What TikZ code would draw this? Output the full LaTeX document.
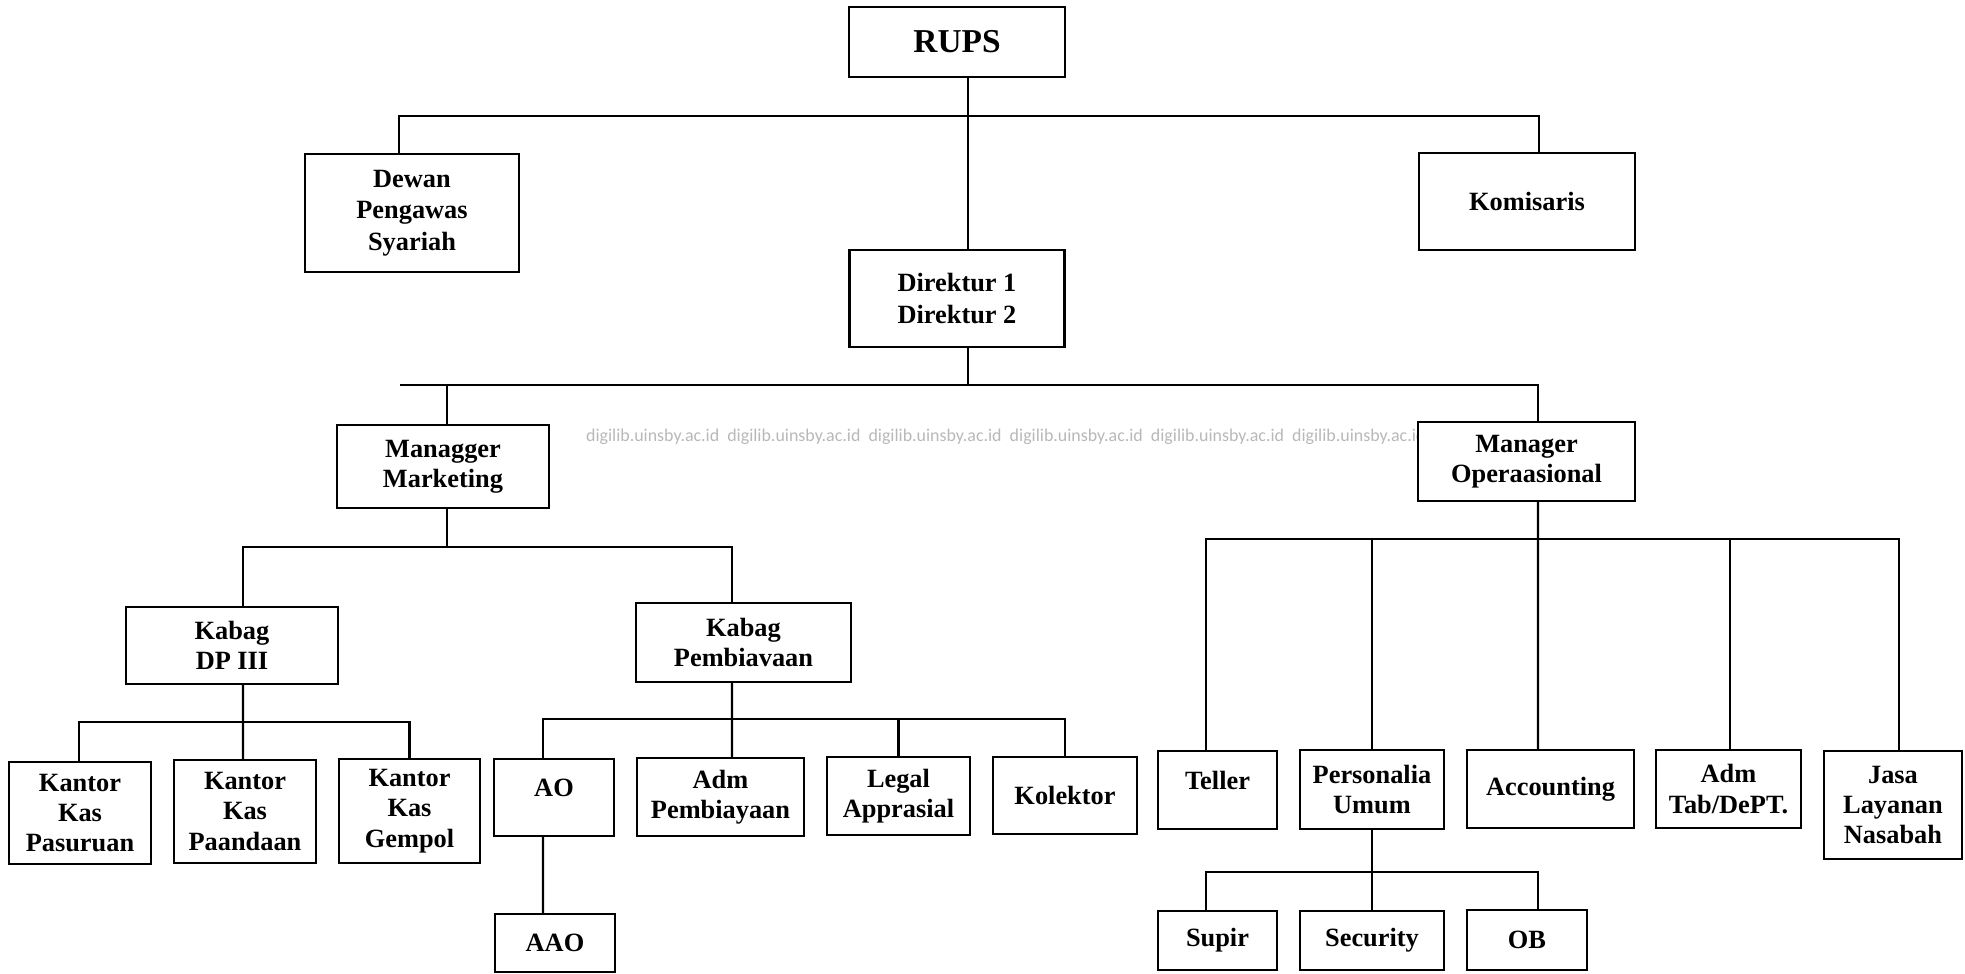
\documentclass[tikz,border=0pt]{standalone}
\usepackage{fontspec}
\setmainfont{Liberation Serif}
\newfontfamily\wmfont{Carlito}
\usetikzlibrary{calc}

\tikzset{
  unit/.style={rectangle, draw, fill=white, line width=0.8pt, inner sep=0pt, outer sep=0pt,
    align=center, font=\fontsize{7.5}{8.6}\selectfont\bfseries},
  link/.style={line width=0.7pt},
}

\begin{document}
\begin{tikzpicture}
    \useasboundingbox (0,0) rectangle (19.65,-9.74);

    % watermark
    \node[font=\wmfont\fontsize{5.1}{6}\selectfont, text=black!28] (wm) at (10.06,-4.37)
      {digilib.uinsby.ac.id\ \ digilib.uinsby.ac.id\ \ digilib.uinsby.ac.id\ \ digilib.uinsby.ac.id\ \ digilib.uinsby.ac.id\ \ digilib.uinsby.ac.id};

    % Top levels
    \node[unit, minimum width=2.16cm, minimum height=0.70cm, font=\fontsize{9.5}{11}\selectfont\bfseries] (rups) at (9.57,-0.42) {RUPS};
    \node[unit, minimum width=2.14cm, minimum height=1.18cm, font=\fontsize{7.5}{9}\selectfont\bfseries] (dewan) at (4.12,-2.13) {Dewan\\Pengawas\\Syariah};
    \node[unit, minimum width=2.16cm, minimum height=0.97cm] (komi) at (15.27,-2.015) {Komisaris};
    \node[unit, minimum width=2.15cm, minimum height=0.97cm, font=\fontsize{7.5}{9.2}\selectfont\bfseries] (dir) at (9.57,-2.985) {Direktur 1\\Direktur 2};
    \node[unit, minimum width=2.12cm, minimum height=0.83cm] (mktg) at (4.43,-4.665) {Managger\\Marketing};
    \node[unit, minimum width=2.17cm, minimum height=0.79cm] (ops) at (15.265,-4.615) {Manager\\Operaasional};

    % Marketing side
    \node[unit, minimum width=2.12cm, minimum height=0.77cm] (kdp) at (2.32,-6.455) {Kabag\\DP III};
    \node[unit, minimum width=2.15cm, minimum height=0.79cm] (kpb) at (7.435,-6.425) {Kabag\\Pembiavaan};
    \node[unit, minimum width=1.42cm, minimum height=1.02cm] (kk1) at (0.80,-8.13) {Kantor\\Kas\\Pasuruan};
    \node[unit, minimum width=1.42cm, minimum height=1.03cm] (kk2) at (2.45,-8.115) {Kantor\\Kas\\Paandaan};
    \node[unit, minimum width=1.41cm, minimum height=1.04cm] (kk3) at (4.095,-8.11) {Kantor\\Kas\\Gempol};
    \node[unit, minimum width=1.20cm, minimum height=0.77cm, text depth=0.2cm] (ao) at (5.54,-7.975) {AO};
    \node[unit, minimum width=1.67cm, minimum height=0.78cm] (admp) at (7.205,-7.97) {Adm\\Pembiayaan};
    \node[unit, minimum width=1.43cm, minimum height=0.78cm] (legal) at (8.985,-7.96) {Legal\\Apprasial};
    \node[unit, minimum width=1.44cm, minimum height=0.77cm] (kol) at (10.65,-7.955) {Kolektor};
    \node[unit, minimum width=1.20cm, minimum height=0.58cm] (aao) at (5.55,-9.43) {AAO};

    % Operasional side
    \node[unit, minimum width=1.19cm, minimum height=0.78cm, text depth=0.2cm] (teller) at (12.175,-7.90) {Teller};
    \node[unit, minimum width=1.44cm, minimum height=0.79cm] (pers) at (13.72,-7.895) {Personalia\\Umum};
    \node[unit, minimum width=1.67cm, minimum height=0.78cm] (acc) at (15.505,-7.89) {Accounting};
    \node[unit, minimum width=1.45cm, minimum height=0.78cm] (admtab) at (17.285,-7.89) {Adm\\Tab/DePT.};
    \node[unit, minimum width=1.38cm, minimum height=1.08cm] (jasa) at (18.93,-8.05) {Jasa\\Layanan\\Nasabah};
    \node[unit, minimum width=1.19cm, minimum height=0.59cm] (supir) at (12.175,-9.405) {Supir};
    \node[unit, minimum width=1.44cm, minimum height=0.59cm] (sec) at (13.72,-9.405) {Security};
    \node[unit, minimum width=1.20cm, minimum height=0.60cm] (ob) at (15.27,-9.40) {OB};

    % Lines
    \draw[link] ($(rups.south)+(0.11,0)$) -- ($(dir.north)+(0.11,0)$);
    \draw[link] ($(dewan.north)+(-0.13,0)$) |- ($(rups.south)+(0.11,-0.39)$) -| ($(komi.north)+(0.12,0)$);

    \coordinate (stub) at (4.00,-3.85);
    \draw[link] ($(dir.south)+(0.11,0)$) -- ++(0,-0.38);
    \draw[link] (stub) -| ($(ops.north)+(0.115,0)$);
    \draw[link] ($(mktg.north)+(0.04,0)$) -- ++(0,0.40);

    \draw[link] ($(mktg.south)+(0.04,0)$) -- ++(0,-0.39);
    \draw[link] ($(kdp.north)+(0.11,0)$) |- ($(mktg.south)+(0.04,-0.39)$) -| ($(kpb.north)+(-0.115,0)$);

    \draw[link] ($(kdp.south)+(0.11,0)$) -- ($(kk2.north)+(-0.02,0)$);
    \draw[link] ($(kk1.north)+(-0.01,0)$) |- ($(kdp.south)+(0.11,-0.38)$) -| (kk3.north);

    \draw[link] ($(kpb.south)+(-0.115,0)$) -- ($(admp.north)+(0.115,0)$);
    \draw[link] ($(ao.north)+(-0.11,0)$) |- ($(kpb.south)+(-0.115,-0.37)$) -| (kol.north);
    \draw[link] (legal.north) -- ++(0,0.38);
    \draw[link] ($(ao.south)+(-0.11,0)$) -- ($(aao.north)+(-0.12,0)$);

    \draw[link] ($(ops.south)+(0.115,0)$) -- ($(acc.north)+(-0.125,0)$);
    \draw[link] ($(teller.north)+(-0.115,0)$) |- ($(ops.south)+(0.115,-0.38)$) -| ($(jasa.north)+(0.06,0)$);
    \draw[link] (pers.north) -- ++(0,2.11);
    \draw[link] ($(admtab.north)+(0.015,0)$) -- ++(0,2.11);

    \draw[link] (pers.south) -- (sec.north);
    \draw[link] ($(supir.north)+(-0.115,0)$) |- ($(pers.south)+(0,-0.43)$) -| ($(ob.north)+(0.11,0)$);
\end{tikzpicture}
\end{document}
